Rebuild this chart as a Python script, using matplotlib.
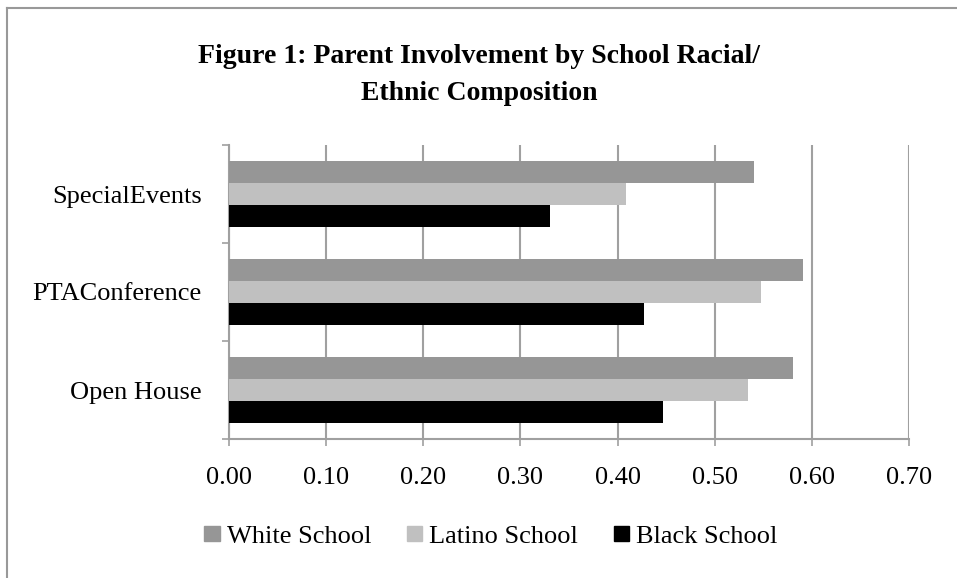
import numpy as np
import matplotlib
matplotlib.use('Agg')
import matplotlib.pyplot as plt
import matplotlib.patches as mpatches
import matplotlib.lines as mlines

# chart data
CATEGORIES = ['Open House', 'PTAConference', 'SpecialEvents']
SERIES = ['White School', 'Latino School', 'Black School']
WHITE = [0.581, 0.591, 0.540]
LATINO = [0.534, 0.548, 0.409]
BLACK = [0.447, 0.427, 0.330]
XTICKS = [0.0, 0.1, 0.2, 0.3, 0.4, 0.5, 0.6, 0.7]
TITLE_LINES = ['Figure 1: Parent Involvement by School Racial/', 'Ethnic Composition']

COLORS = ['#969696', '#c0c0c0', '#000000']
GRID = '#a0a0a0'
plt.rcParams['font.family'] = ['Liberation Serif', 'DejaVu Serif']

fig = plt.figure(figsize=(9.57, 5.78), dpi=100)
ax = fig.add_axes([229 / 957, 1 - 439 / 578, 680 / 957, 294 / 578])

pos = np.arange(len(CATEGORIES))
height = 0.224
for vals, color, offset in zip([WHITE, LATINO, BLACK], COLORS, [height, 0, -height]):
    ax.barh(pos + offset, vals, height=height, color=color, zorder=3)

ax.set_xlim(0, 0.7)
ax.set_ylim(-0.5, 2.5)
ax.set_xticks(XTICKS)
ax.set_xticklabels(['%.2f' % t for t in XTICKS], fontsize=19)
ax.set_yticks(pos)
ax.set_yticklabels(CATEGORIES, fontsize=19)
ax.set_yticks([-0.5, 0.5, 1.5, 2.5], minor=True)
ax.tick_params(axis='y', which='major', length=0, pad=19.5)
ax.tick_params(axis='y', which='minor', length=5, width=1.2, color=GRID, direction='out')
ax.tick_params(axis='x', which='major', length=5, width=1.2, color=GRID, pad=15)
ax.xaxis.grid(True, color=GRID, linewidth=1.5, zorder=0)
for side in ['top', 'right']:
    ax.spines[side].set_visible(False)
for side in ['left', 'bottom']:
    ax.spines[side].set_color(GRID)
    ax.spines[side].set_linewidth(1.5)

# two title lines, placed by baseline
for line, base in zip(TITLE_LINES, [63, 100]):
    fig.text(479 / 957, 1 - base / 578, line, ha='center', va='baseline',
             fontsize=20, fontweight='bold')

handles = [mpatches.Patch(color=c, label=s) for c, s in zip(COLORS, SERIES)]
fig.legend(handles=handles, loc='center', bbox_to_anchor=(491 / 957, 1 - 537 / 578),
           ncol=3, frameon=False, fontsize=19, handlelength=0.57, handleheight=0.53,
           handletextpad=0.27, columnspacing=1.36, borderpad=0)

# chart border, only top and left visible in the crop
fig.add_artist(mlines.Line2D([7 / 957, 7 / 957], [0, 1 - 8 / 578], color='#999999', linewidth=1.5))
fig.add_artist(mlines.Line2D([7 / 957, 1], [1 - 8 / 578, 1 - 8 / 578], color='#999999', linewidth=1.5))

fig.savefig('out.png', dpi=100)
